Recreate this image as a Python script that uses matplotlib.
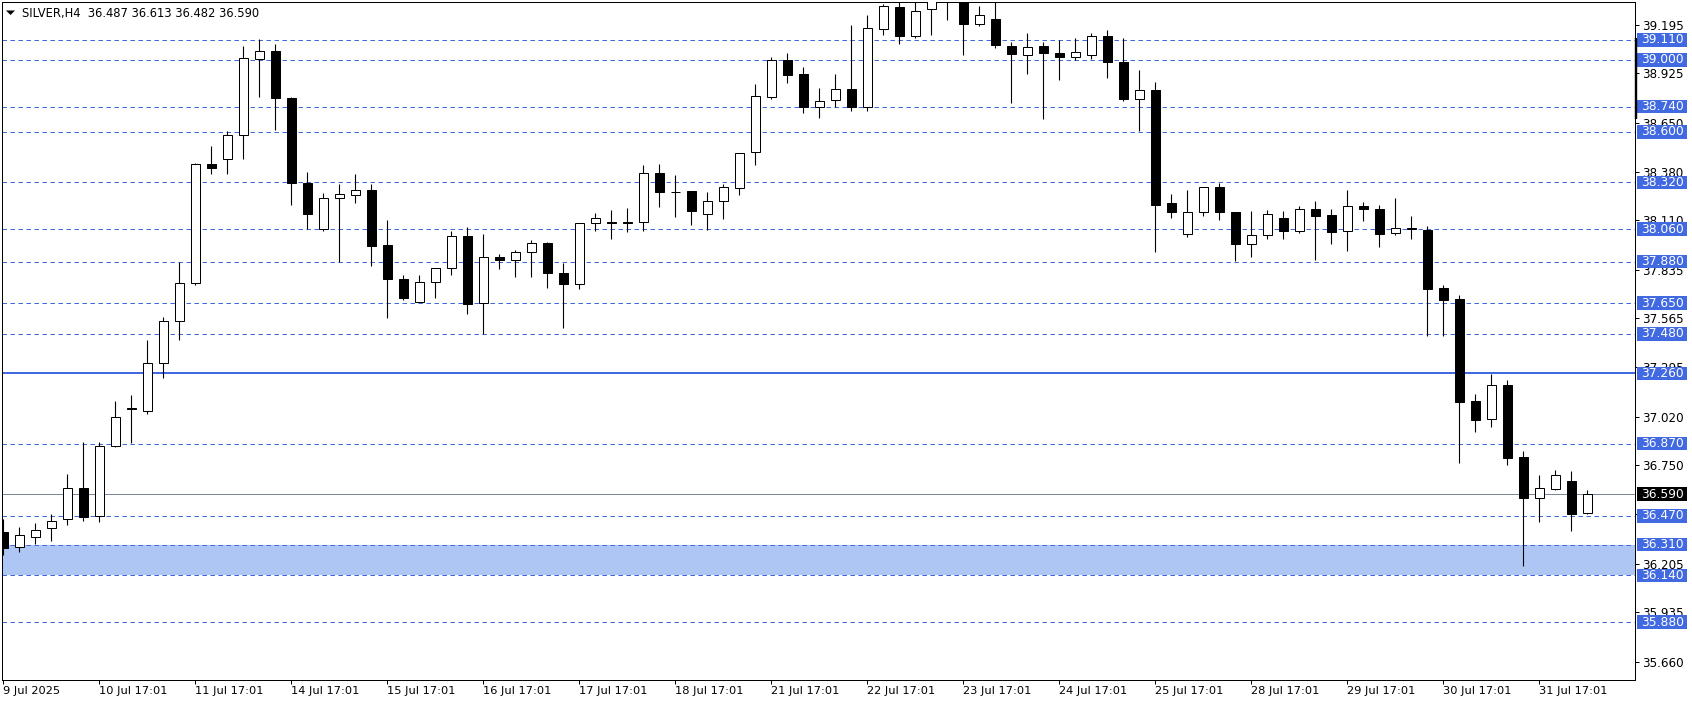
import matplotlib
matplotlib.use('Agg')
import matplotlib.pyplot as plt
from matplotlib.patches import Rectangle, Polygon
import matplotlib.transforms as mtransforms

plt.rcParams['font.family'] = ['DejaVu Sans']
plt.rcParams['lines.scale_dashes'] = False

# ---------------- data ----------------
title = "SILVER,H4  36.487 36.613 36.482 36.590"

opens = [36.379, 36.295, 36.350, 36.400, 36.450, 36.622, 36.467, 36.855, 37.066, 37.054,
         37.316, 37.549, 37.760, 38.421, 38.448, 38.582, 39.005, 39.049, 38.789, 38.316,
         38.060, 38.231, 38.248, 38.275, 37.970, 37.786, 37.658, 37.769, 37.847, 38.025,
         37.652, 37.905, 37.892, 37.936, 37.981, 37.819, 37.758, 38.092, 38.098, 38.098,
         38.098, 38.371, 38.269, 38.271, 38.143, 38.219, 38.291, 38.486, 38.791, 39.001,
         38.923, 38.738, 38.777, 38.838, 38.738, 39.171, 39.293, 39.130, 39.282, 39.340,
         39.370, 39.197, 39.229, 39.078, 39.027, 39.078, 39.040, 39.015, 39.027, 39.132,
         38.988, 38.782, 38.832, 38.203, 38.036, 38.153, 38.292, 38.153, 37.978, 38.028,
         38.120, 38.052, 38.170, 38.137, 38.048, 38.187, 38.170, 38.037, 38.064, 38.056,
         37.734, 37.673, 37.107, 37.005, 37.194, 36.796, 36.567, 36.621, 36.661, 36.487]
highs = [36.451, 36.407, 36.432, 36.480, 36.700, 36.878, 36.878, 37.108, 37.140, 37.446,
         37.574, 37.880, 38.425, 38.523, 38.605, 39.077, 39.116, 39.087, 38.792, 38.379,
         38.261, 38.311, 38.366, 38.311, 38.110, 37.805, 37.805, 37.847, 38.049, 38.070,
         38.031, 37.925, 37.947, 37.999, 37.992, 37.875, 38.092, 38.149, 38.166, 38.177,
         38.416, 38.423, 38.362, 38.272, 38.267, 38.312, 38.483, 38.867, 39.016, 39.040,
         38.962, 38.845, 38.923, 39.195, 39.251, 39.308, 39.340, 39.335, 39.360, 39.400,
         39.390, 39.297, 39.335, 39.101, 39.151, 39.101, 39.112, 39.123, 39.151, 39.168,
         39.123, 38.945, 38.876, 38.253, 38.275, 38.297, 38.316, 38.155, 38.160, 38.166,
         38.161, 38.189, 38.216, 38.172, 38.277, 38.211, 38.194, 38.233, 38.133, 38.076,
         37.749, 37.695, 37.146, 37.255, 37.224, 36.830, 36.697, 36.724, 36.719, 36.613]
lows = [36.251, 36.270, 36.312, 36.331, 36.419, 36.442, 36.436, 36.850, 36.872, 37.035,
        37.236, 37.446, 37.748, 38.368, 38.364, 38.448, 38.793, 38.609, 38.192, 38.062,
        38.052, 37.879, 38.203, 37.856, 37.567, 37.667, 37.658, 37.678, 37.806, 37.589,
        37.480, 37.840, 37.795, 37.795, 37.734, 37.512, 37.728, 38.051, 38.007, 38.046,
        38.053, 38.186, 38.130, 38.084, 38.056, 38.117, 38.251, 38.414, 38.784, 38.873,
        38.706, 38.679, 38.736, 38.714, 38.714, 39.136, 39.086, 39.119, 39.136, 39.219,
        39.025, 39.190, 39.064, 38.758, 38.924, 38.674, 38.886, 38.997, 39.006, 38.897,
        38.774, 38.604, 37.934, 38.123, 38.017, 38.134, 38.112, 37.882, 37.906, 38.006,
        38.006, 38.041, 37.891, 37.980, 37.941, 38.107, 37.963, 38.030, 38.008, 37.469,
        37.469, 36.765, 36.937, 36.965, 36.754, 36.194, 36.438, 36.613, 36.388, 36.482]
closes = [36.293, 36.365, 36.394, 36.444, 36.627, 36.465, 36.855, 37.016, 37.062, 37.316,
          37.549, 37.760, 38.421, 38.402, 38.582, 39.010, 39.049, 38.789, 38.316, 38.144,
          38.232, 38.253, 38.275, 37.968, 37.784, 37.678, 37.769, 37.847, 38.025, 37.647,
          37.908, 37.890, 37.936, 37.981, 37.817, 37.756, 38.092, 38.120, 38.094, 38.094,
          38.370, 38.269, 38.265, 38.164, 38.216, 38.293, 38.482, 38.799, 39.001, 38.914,
          38.736, 38.771, 38.838, 38.736, 39.177, 39.299, 39.130, 39.271, 39.335, 39.370,
          39.197, 39.249, 39.080, 39.030, 39.071, 39.036, 39.014, 39.043, 39.132, 38.988,
          38.780, 38.832, 38.195, 38.153, 38.158, 38.292, 38.158, 37.978, 38.030, 38.142,
          38.052, 38.170, 38.135, 38.046, 38.187, 38.174, 38.035, 38.065, 38.062, 37.730,
          37.669, 37.103, 37.003, 37.194, 36.793, 36.571, 36.623, 36.695, 36.482, 36.590]

date_label_bars = [0, 6, 12, 18, 24, 30, 36, 42, 48, 54, 60, 66, 72, 78, 84, 90, 96]
date_labels = ["9 Jul 2025", "10 Jul 17:01", "11 Jul 17:01", "14 Jul 17:01", "15 Jul 17:01",
               "16 Jul 17:01", "17 Jul 17:01", "18 Jul 17:01", "21 Jul 17:01", "22 Jul 17:01",
               "23 Jul 17:01", "24 Jul 17:01", "25 Jul 17:01", "28 Jul 17:01", "29 Jul 17:01",
               "30 Jul 17:01", "31 Jul 17:01"]

ytick_values = [39.195, 38.925, 38.650, 38.380, 38.110, 37.835, 37.565, 37.295,
                37.020, 36.750, 36.480, 36.205, 35.935, 35.660]

dashed_levels = [39.110, 39.000, 38.740, 38.600, 38.320, 38.060, 37.880, 37.650,
                 37.480, 36.870, 36.470, 36.310, 36.140, 35.880]
solid_level = 37.260
bid_price = 36.590
zone_low, zone_high = 36.140, 36.310
marker_top, marker_bottom = 39.119, 38.672

# ---------------- layout ----------------
W, H, DPI = 1692, 704, 100
PX = 72.0 / DPI  # points per pixel
BLUE = '#4169E1'
ZONE = '#AEC6F4'
GRAY = '#778899'

fig = plt.figure(figsize=(W / DPI, H / DPI), dpi=DPI)
fig.patch.set_facecolor('white')
Lp, Rp, Tp, Bp = 2, 1635, 2, 680
ax = fig.add_axes([Lp / W, (H - Bp) / H, (Rp - Lp) / W, (Bp - Tp) / H])
bar_px = 16.0
x0_px = 3.3
ax.set_xlim((Lp - x0_px) / bar_px, (Rp - x0_px) / bar_px)
ymin, ymax = 35.5592, 39.3208
ax.set_ylim(ymin, ymax)
px_per_unit = (Bp - Tp) / (ymax - ymin)

for s in ax.spines.values():
    s.set_linewidth(1.0 * PX)
    s.set_color('black')

# zone
ax.axhspan(zone_low, zone_high, color=ZONE, lw=0, zorder=1)

# level lines
for lv in dashed_levels:
    ax.axhline(lv, color=BLUE, lw=1.0 * PX, ls=(0, (4.5 * PX, 3.5 * PX)), zorder=2)
ax.axhline(solid_level, color=BLUE, lw=2.0 * PX, zorder=2)
ax.axhline(bid_price, color=GRAY, lw=1.0 * PX, zorder=2)

# candles
bw = 9.0 / bar_px
min_h = 0.004
for i, (o, h, l, c) in enumerate(zip(opens, highs, lows, closes)):
    ax.plot([i, i], [l, h], color='black', lw=1.1 * PX, solid_capstyle='butt', zorder=3)
    if abs(c - o) < min_h:
        bot = (o + c) / 2 - min_h / 2
        ht = min_h
    else:
        bot = min(o, c)
        ht = abs(c - o)
    face = 'white' if c > o else 'black'
    ax.add_patch(Rectangle((i - bw / 2, bot), bw, ht, facecolor=face,
                           edgecolor='black', lw=1.0 * PX, zorder=4))

# axes ticks
ax.yaxis.tick_right()
ax.set_yticks(ytick_values)
ax.set_yticklabels([f"{v:.3f}" for v in ytick_values])
ax.tick_params(axis='y', direction='out', length=4 * PX, width=1.0 * PX, pad=2,
               labelsize=8.6, colors='black')
ax.set_xticks(date_label_bars)
ax.set_xticklabels(date_labels, ha='left')
ax.tick_params(axis='x', direction='out', length=4 * PX, width=1.0 * PX, pad=1.5,
               labelsize=8.2, colors='black')

# price labels on the right axis
trans = mtransforms.blended_transform_factory(ax.transAxes, ax.transData)
ax_w_px = Rp - Lp
box_x = (1637 - Lp) / ax_w_px
box_w = (1687 - 1637) / ax_w_px
text_x = (1641 - Lp) / ax_w_px
box_h = 13.5 / px_per_unit


def price_label(p, fc):
    ax.add_patch(Rectangle((box_x, p - box_h / 2), box_w, box_h, transform=trans,
                           facecolor=fc, edgecolor='none', clip_on=False, zorder=6))
    ax.text(text_x, p, f"{p:.3f}", transform=trans, color='white', fontsize=8.8,
            va='center', ha='left', clip_on=False, zorder=7)


for lv in dashed_levels + [solid_level]:
    price_label(lv, BLUE)
price_label(bid_price, 'black')

# marker bar on the price axis
ax.plot([(1635.5 - Lp) / ax_w_px] * 2, [marker_bottom, marker_top], transform=trans,
        color='black', lw=2.4 * PX, solid_capstyle='butt', clip_on=False, zorder=6)

# title
fig.text(21.7 / W, 1 - 13.5 / H, title, fontsize=8.3, va='center', ha='left', color='black')
tri = Polygon([(6 / W, 1 - 10.5 / H), (15 / W, 1 - 10.5 / H), (10.5 / W, 1 - 15 / H)],
              closed=True, transform=fig.transFigure, facecolor='black', edgecolor='none')
fig.patches.append(tri)

fig.savefig('out.png', dpi=DPI, facecolor='white')
